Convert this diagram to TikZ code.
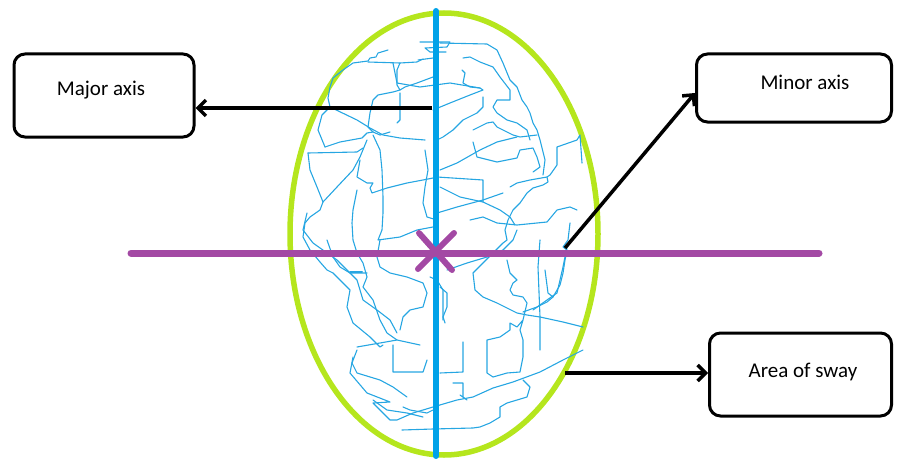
\documentclass[tikz,border=0pt]{standalone}
\usepackage{fontspec}
\setmainfont{Carlito}
\usetikzlibrary{arrows.meta}
\definecolor{swayblue}{RGB}{38,166,226}
\definecolor{axisblue}{RGB}{0,162,232}
\definecolor{limegreen}{RGB}{181,230,29}
\definecolor{violet}{RGB}{163,73,164}
\tikzset{
  labelbox/.style={draw=black, line width=3pt, rounded corners=11pt, inner sep=0pt, fill=white},
  labeltext/.style={font=\fontsize{21}{25}\selectfont, inner sep=0pt, anchor=center},
  pointer/.style={draw=black, line width=3.5pt, -{Straight Barb[length=8pt,width=16pt]}},
  sway/.style={draw=swayblue, line width=1.1pt, line join=round, line cap=round},
}
\begin{document}
\begin{tikzpicture}[x=1pt,y=-1pt]
\useasboundingbox (0,0) rectangle (897,460);
% area of sway ellipse
\draw[limegreen, line width=5.5pt] (444,234) ellipse [x radius=154, y radius=221];
% sway trajectory
\draw[sway] (388,50) -- (378,53) -- (376,57) -- (370,58) -- (368,61) -- (353,63) -- (343,70) -- (333,78) -- (330,87) -- (328,98) -- (330,107) -- (357,120) -- (370,128) -- (383,135) -- (400,138) -- (425,140);
\draw[sway] (330,107) -- (322,115) -- (318,130) -- (325,147);
\draw[sway] (368,62) -- (400,63) -- (417,62) -- (423,59);
\draw[sway] (393,63) -- (397,83) -- (420,87) -- (450,83) -- (480,88);
\draw[sway] (400,63) -- (397,70) -- (397,85) -- (400,90) -- (393,92) -- (378,95) -- (373,100) -- (370,113) -- (368,127) -- (373,132) -- (380,135) -- (390,132);
\draw[sway] (400,90) -- (405,87) -- (417,83) -- (425,80) -- (433,77);
\draw[sway] (400,93) -- (400,120) -- (397,123);
\draw[sway] (420,42) -- (450,42) -- (447,47) -- (425,48) -- (430,52) -- (446,52);
\draw[sway] (418,60) -- (433,58);
\draw[sway] (440,43) -- (487,44) -- (497,50) -- (503,63) -- (510,80) -- (517,87) -- (522,100) -- (527,107) -- (530,113) -- (533,123) -- (537,130) -- (540,140) -- (545,160) -- (543,175);
\draw[sway] (463,58) -- (470,57) -- (480,62) -- (493,67) -- (500,77) -- (510,90) -- (510,100) -- (497,100) -- (493,107) -- (497,113) -- (507,120) -- (517,123) -- (527,130) -- (530,140);
\draw[sway] (462,70) -- (465,73) -- (463,83) -- (470,87) -- (480,88) -- (483,90) -- (470,95) -- (450,103) -- (433,110);
\draw[sway] (483,97) -- (483,107) -- (477,113) -- (463,120) -- (453,130) -- (443,137) -- (437,140);
\draw[sway] (473,130) -- (487,123) -- (493,122) -- (497,127) -- (503,130) -- (513,135) -- (520,137) -- (537,135);
\draw[sway] (325,147) -- (340,142) -- (362,138) -- (367,133) -- (373,132);
\draw[sway] (308,153) -- (357,152) -- (363,148);
\draw[sway] (308,153) -- (310,170) -- (317,187) -- (323,202) -- (320,210) -- (310,217) -- (305,223) -- (303,237) -- (310,250) -- (320,262) -- (327,270) -- (333,273);
\draw[sway] (307,213) -- (303,230) -- (313,243) -- (337,260) -- (357,280) -- (363,300) -- (377,310) -- (390,320) -- (397,333);
\draw[sway] (323,202) -- (337,187) -- (353,170) -- (360,157) -- (367,140);
\draw[sway] (360,160) -- (357,177) -- (367,183) -- (373,183) -- (370,188) -- (372,193) -- (387,188) -- (407,183) -- (423,180) -- (433,178);
\draw[sway] (373,135) -- (380,150) -- (382,170) -- (383,197) -- (383,213) -- (382,230) -- (378,240) -- (400,237) -- (417,230) -- (433,227);
\draw[sway] (357,190) -- (353,210) -- (352,223) -- (353,240) -- (357,253) -- (363,263) -- (367,277) -- (363,287) -- (373,300) -- (380,320) -- (387,333) -- (397,340);
\draw[sway] (425,150) -- (428,170) -- (425,187) -- (423,203) -- (427,217) -- (437,220);
\draw[sway] (440,170) -- (457,163) -- (480,150) -- (497,142) -- (517,137);
\draw[sway] (473,142) -- (477,157) -- (497,162) -- (517,158) -- (520,150) -- (533,148) -- (537,157) -- (540,167) -- (533,172);
\draw[sway] (437,177) -- (483,180) -- (483,202);
\draw[sway] (440,187) -- (460,197) -- (483,202) -- (500,210) -- (510,217) -- (515,225);
\draw[sway] (437,213) -- (457,207) -- (483,200) -- (503,193);
\draw[sway] (510,187) -- (517,183) -- (530,180) -- (547,177) -- (548,182) -- (543,185) -- (533,188) -- (527,193) -- (520,203) -- (513,210) -- (508,220) -- (505,230) -- (507,240) -- (503,243) -- (483,263) -- (473,273) -- (475,290) -- (483,297) -- (497,303) -- (517,313) -- (527,315) -- (540,317) -- (563,322) -- (583,327);
\draw[sway] (533,310) -- (547,300) -- (557,293) -- (563,267) -- (567,247);
\draw[sway] (547,177) -- (550,175) -- (557,165) -- (557,147) -- (577,140) -- (580,135) -- (582,163);
\draw[sway] (470,220) -- (483,217) -- (497,223) -- (517,225) -- (537,223) -- (547,222) -- (557,210) -- (570,207) -- (577,210);
\draw[sway] (570,223) -- (568,240) -- (563,247) -- (567,250) -- (565,260) -- (563,273) -- (560,285) -- (553,297);
\draw[sway] (447,270) -- (467,263) -- (487,257) -- (503,250) -- (510,243) -- (513,240) -- (517,230);
\draw[sway] (507,260) -- (510,273) -- (517,280) -- (513,283) -- (510,290) -- (513,295) -- (523,297) -- (527,303) -- (523,320) -- (517,327) -- (510,323) -- (510,330) -- (500,337) -- (487,340) -- (487,373) -- (493,377) -- (507,373) -- (520,372) -- (523,357) -- (523,340) -- (520,330) -- (523,320);
\draw[sway] (540,240) -- (538,267) -- (540,317) -- (540,350);
\draw[sway] (545,270) -- (548,293) -- (553,297) -- (547,302) -- (537,307) -- (523,312);
\draw[sway] (327,240) -- (333,257) -- (340,267) -- (350,273) -- (367,273);
\draw[sway, line width=2pt] (350,272) -- (362,272);
\draw[sway] (380,240) -- (377,257) -- (380,267) -- (390,273) -- (407,277) -- (423,283) -- (427,293) -- (423,307) -- (410,310) -- (403,317) -- (400,330);
\draw[sway] (333,273) -- (350,290) -- (347,307) -- (353,323) -- (370,337) -- (380,347) -- (383,345);
\draw[sway] (430,277) -- (437,280) -- (443,290) -- (443,320);
\draw[sway] (440,287) -- (447,293) -- (447,307) -- (443,317) -- (445,323);
\draw[sway] (357,347) -- (380,343) -- (397,340) -- (420,345);
\draw[sway] (357,350) -- (352,363) -- (357,373) -- (380,380) -- (393,387) -- (407,397);
\draw[sway] (373,400) -- (387,410) -- (407,413) -- (423,417);
\draw[sway] (393,345) -- (393,372) -- (423,372) -- (427,360);
\draw[sway] (353,357) -- (350,373) -- (367,393) -- (390,402) -- (373,403) -- (380,410) -- (390,420) -- (397,420) -- (413,413) -- (433,407) -- (457,400) -- (473,397) -- (493,388) -- (513,382) -- (540,372) -- (563,360) -- (583,350);
\draw[sway] (403,407) -- (410,410) -- (427,413) -- (433,410);
\draw[sway] (402,430) -- (433,429) -- (473,428) -- (480,427) -- (490,423) -- (500,417) -- (500,407) -- (507,403) -- (527,397) -- (530,387) -- (523,380);
\draw[sway] (453,383) -- (463,383) -- (463,397) -- (467,400) -- (460,395);
\draw[sway] (440,373) -- (463,372) -- (463,353) -- (463,342);
% axes
\draw[axisblue, line width=6pt, line cap=round] (436,11) -- (436,456);
\draw[violet, line width=7pt, line cap=round] (131,253) -- (819,253);
\draw[violet, line width=6pt, line cap=round] (419,233) -- (452,270);
\draw[violet, line width=6pt, line cap=round] (454,233) -- (418,269);
% label boxes
\node[labelbox, minimum width=180pt, minimum height=83pt] (major) at (104,95.5) {};
\node[labeltext] (majortext) at (101,90) {Major axis};
\node[labelbox, minimum width=195pt, minimum height=68pt] (minor) at (794,88) {};
\node[labeltext] (minortext) at (805,82) {Minor axis};
\node[labelbox, minimum width=182pt, minimum height=83pt] (area) at (800.5,374.5) {};
\node[labeltext] (areatext) at (803,372) {Area of sway};
% connectors
\coordinate (majstart) at (432,108);
\coordinate (minstart) at (565,248);
\coordinate (areastart) at (565,373);
\draw[pointer] (majstart) -- (majstart -| major.east);
\draw[pointer] (minstart) -- ([yshift=-5pt]minor.west);
\draw[pointer] (areastart) -- (areastart -| area.west);
\end{tikzpicture}
\end{document}
